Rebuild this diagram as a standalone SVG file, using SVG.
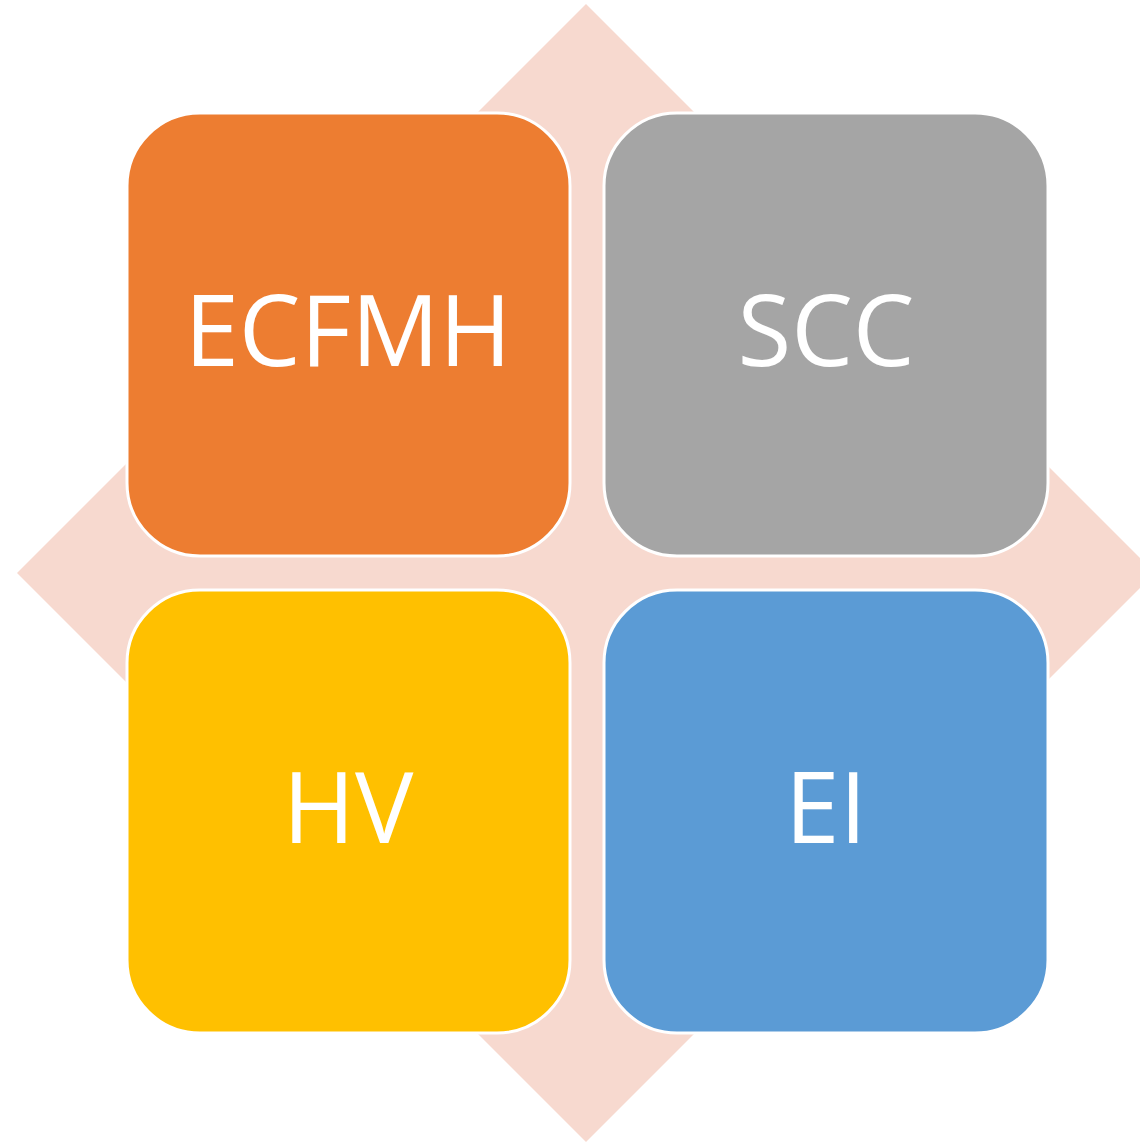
<svg xmlns="http://www.w3.org/2000/svg" width="1140" height="1144" viewBox="0 0 1140 1144">
<style>
.box{stroke:#FFFFFF;stroke-width:3}
.lbl{font-family:"Open Sans","Liberation Sans",sans-serif;font-size:98px;fill:#FFFFFF;text-anchor:middle}
</style>
<rect width="1140" height="1144" fill="#FFFFFF"/>
<g id="background">
<polygon points="586,4 1155,573 586,1142 17,573" fill="#F7D9CF"/>
</g>
<g id="connectors"></g>
<g id="node-ecfmh">
<rect class="box" x="127" y="113" width="443" height="443" rx="73" ry="73" fill="#ED7D31"/>
<text class="lbl" x="348" y="366">ECFMH</text>
</g>
<g id="node-scc">
<rect class="box" x="604" y="113" width="444" height="443" rx="73" ry="73" fill="#A5A5A5"/>
<text class="lbl" x="826" y="366">SCC</text>
</g>
<g id="node-hv">
<rect class="box" x="127" y="590" width="443" height="443" rx="73" ry="73" fill="#FFC000"/>
<text class="lbl" x="348" y="843">HV</text>
</g>
<g id="node-ei">
<rect class="box" x="604" y="590" width="444" height="443" rx="73" ry="73" fill="#5B9BD5"/>
<text class="lbl" x="826" y="843">EI</text>
</g>
</svg>
